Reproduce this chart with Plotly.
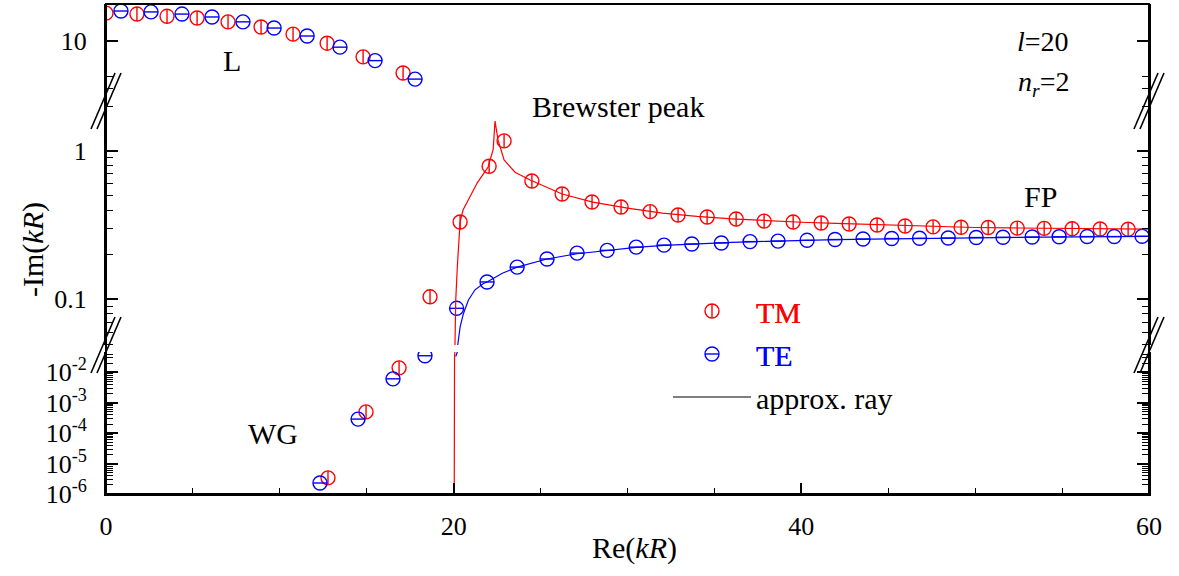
import plotly.graph_objects as go

# ---------------- data ----------------
# TM resonances (red): L modes, WG modes, FP / Brewster modes
tm_x = [0.0, 1.78, 3.51, 5.24, 7.02, 8.92, 10.76, 12.72, 14.79, 17.09,
        12.77, 14.96, 16.86,
        18.64, 20.37, 22.04, 22.9, 24.5, 26.24, 27.96, 29.63, 31.3, 32.91, 34.58,
        36.25, 37.86, 39.53, 41.14, 42.75, 44.36, 45.97, 47.58, 49.19, 50.75,
        52.42, 53.97, 55.58, 57.19, 58.8, 60.4]
tm_y = [16.9, 16.6, 15.9, 15.4, 14.3, 12.95, 11.3, 9.5, 7.3, 5.36,
        3.4e-6, 5.0e-4, 1.4e-2,
        0.104, 0.332, 0.79, 1.17, 0.628, 0.513, 0.453, 0.419, 0.39, 0.37, 0.359,
        0.348, 0.337, 0.332, 0.327, 0.322, 0.317, 0.312, 0.308, 0.306, 0.305,
        0.302, 0.301, 0.299, 0.298, 0.297, 0.296]

# TE resonances (blue)
te_x = [0.86, 2.59, 4.37, 6.1, 7.88, 9.67, 11.57, 13.46, 15.48, 17.78,
        12.31, 14.5, 16.51, 18.35,
        20.17, 21.92, 23.65, 25.37, 27.1, 28.83, 30.5, 32.1, 33.7, 35.4, 37.05,
        38.66, 40.33, 41.94, 43.55, 45.2, 46.8, 48.45, 50.06, 51.6, 53.28,
        54.83, 56.44, 58.0, 59.6]
te_y = [17.6, 17.3, 16.6, 15.7, 14.3, 12.7, 10.9, 8.8, 6.8, 4.77,
        2.3e-6, 2.9e-4, 6.1e-3, 0.035,
        0.087, 0.131, 0.165, 0.187, 0.205, 0.214, 0.225, 0.232, 0.236, 0.24, 0.245,
        0.247, 0.25, 0.253, 0.255, 0.257, 0.258, 0.259, 0.261, 0.262, 0.263,
        0.264, 0.265, 0.265, 0.266]

# approximate ray-model curves
tm_ray_x = [20.03, 20.03, 20.05, 20.08, 20.12, 20.21, 20.29, 20.37, 20.54, 20.83,
            21.35, 21.98, 22.27, 22.38, 22.55, 22.9, 23.53, 24.4, 26.24, 28, 30,
            32, 34, 36, 38, 40, 42, 44, 46, 48, 50, 52, 54, 56, 58, 60]
tm_ray_y = [1e-7, 0.01, 0.035, 0.053, 0.099, 0.166, 0.251, 0.332, 0.40, 0.468,
            0.608, 0.78, 1.02, 1.59, 1.19, 0.87, 0.72, 0.637, 0.513, 0.452, 0.412,
            0.381, 0.362, 0.349, 0.339, 0.331, 0.325, 0.319, 0.313, 0.308, 0.305,
            0.303, 0.301, 0.299, 0.298, 0.297]
te_ray_x = [20.12, 20.17, 20.22, 20.27, 20.37, 20.56, 20.85, 21.23, 21.71, 21.92,
            22.8, 23.65, 25.37, 27.1, 28.83, 30.5, 32.1, 34, 36, 38, 40, 42, 44,
            46, 48, 50, 52, 54, 56, 58, 60]
te_ray_y = [0.033, 0.042, 0.048, 0.053, 0.065, 0.080, 0.099, 0.116, 0.128, 0.131,
            0.150, 0.165, 0.187, 0.203, 0.214, 0.224, 0.231, 0.237, 0.242, 0.246,
            0.250, 0.253, 0.255, 0.257, 0.259, 0.261, 0.262, 0.263, 0.264, 0.265,
            0.266]

x_ticks = [0, 20, 40, 60]
seg1_ticks, seg1_text = [10], ["10"]
seg2_ticks, seg2_text = [0.1, 1], ["0.1", "1"]
seg3_ticks = [1e-6, 1e-5, 1e-4, 1e-3, 1e-2]
seg3_text = ["10<sup>-6</sup>", "10<sup>-5</sup>", "10<sup>-4</sup>",
             "10<sup>-3</sup>", "10<sup>-2</sup>"]

# ---------------- layout constants ----------------
RED, BLUE = "#ff0000", "#0000ff"
FONT = "Liberation Serif"
W, H = 1179, 576
ML, MR, MT, MB = 106, 30, 4, 82
PW, PH = W - ML - MR, H - MT - MB


def px2paper(px, py):
    return (px - ML) / PW, (H - MB - py) / PH


fig = go.Figure()
axes = ["y", "y2", "y3"]
for i, ya in enumerate(axes):
    first = i == 0
    fig.add_trace(go.Scatter(x=tm_x, y=tm_y, yaxis=ya, mode="markers",
                             marker=dict(symbol="circle-open", size=14, color=RED,
                                         line=dict(width=1.4, color=RED)),
                             name='<span style="color:#ff0000">TM</span>',
                             legendgroup="tm", showlegend=first, legend="legend"))
    fig.add_trace(go.Scatter(x=tm_x, y=tm_y, yaxis=ya, mode="markers",
                             marker=dict(symbol="line-ns-open", size=10, color=RED,
                                         line=dict(width=1.4, color=RED)),
                             name='<span style="color:#ff0000">TM</span>',
                             legendgroup="tm2", showlegend=first, legend="legend2"))
    fig.add_trace(go.Scatter(x=te_x, y=te_y, yaxis=ya, mode="markers",
                             marker=dict(symbol="circle-open", size=14, color=BLUE,
                                         line=dict(width=1.4, color=BLUE)),
                             name='<span style="color:#0000ff">TE</span>',
                             legendgroup="te", showlegend=first, legend="legend"))
    fig.add_trace(go.Scatter(x=te_x, y=te_y, yaxis=ya, mode="markers",
                             marker=dict(symbol="line-ew-open", size=10, color=BLUE,
                                         line=dict(width=1.4, color=BLUE)),
                             name='<span style="color:#0000ff">TE</span>',
                             legendgroup="te2", showlegend=first, legend="legend2"))
    fig.add_trace(go.Scatter(x=tm_ray_x, y=tm_ray_y, yaxis=ya, mode="lines",
                             line=dict(color=RED, width=1.2), showlegend=False))
    fig.add_trace(go.Scatter(x=te_ray_x, y=te_ray_y, yaxis=ya, mode="lines",
                             line=dict(color=BLUE, width=1.2), showlegend=False))

# legend-only entry for the approximate ray model
fig.add_trace(go.Scatter(x=[None], y=[None], mode="lines", yaxis="y2",
                         line=dict(color="black", width=1.2),
                         name="approx. ray", legendgroup="ray", legend="legend"))

tickfont = dict(family=FONT, size=26, color="black")


def yax(domain, rng, tv, tt, minor_vals):
    return dict(type="log", domain=domain, range=rng, anchor="x",
                tickmode="array", tickvals=tv, ticktext=tt,
                ticks="inside", ticklen=12, tickwidth=1.5, tickcolor="black",
                showline=True, linecolor="black", linewidth=2, mirror="ticks",
                showgrid=False, zeroline=False, tickfont=tickfont,
                ticklabelstandoff=12,
                minor=dict(tickmode="array", tickvals=minor_vals, ticks="inside",
                           ticklen=7, tickwidth=1.3, tickcolor="black", showgrid=False))


minor1 = [4, 5, 20]
minor2 = [0.04, 0.05, 0.06, 0.07, 0.08, 0.09, 0.2, 0.3, 0.4, 0.5, 0.6, 0.7, 0.8, 0.9, 2]
minor3 = [m * 10 ** e for e in range(-6, -1) for m in range(2, 10)] + [0.02, 0.03, 0.04]

fig.update_layout(
    width=W, height=H,
    margin=dict(l=ML, r=MR, t=MT, b=MB),
    paper_bgcolor="white", plot_bgcolor="white",
    font=dict(family=FONT, size=26, color="black"),
    xaxis=dict(domain=[0, 1], range=[0, 60], anchor="y3",
               tickmode="array", tickvals=x_ticks,
               ticks="inside", ticklen=11, tickwidth=1.5, tickcolor="black",
               showline=True, linecolor="black", linewidth=2,
               showgrid=False, zeroline=False, tickfont=tickfont,
               ticklabelstandoff=8,
               minor=dict(dtick=5, ticks="inside", ticklen=6, tickwidth=1.3,
                          tickcolor="black", showgrid=False)),
    xaxis2=dict(overlaying="x", matches="x", range=[0, 60], anchor="y", side="top",
                tickmode="array", tickvals=x_ticks, showticklabels=False,
                ticks="inside", ticklen=11, tickwidth=1.5, tickcolor="black",
                showline=True, linecolor="black", linewidth=2,
                showgrid=False, zeroline=False,
                minor=dict(dtick=5, ticks="inside", ticklen=6, tickwidth=1.3,
                           tickcolor="black", showgrid=False)),
    yaxis=yax([0.802, 1.0], [0.496, 1.304], seg1_ticks, seg1_text, minor1),
    yaxis2=yax([0.304, 0.802], [-1.308, 0.337], seg2_ticks, seg2_text, minor2),
    yaxis3=yax([0.0, 0.290], [-6.0, -1.329], seg3_ticks, seg3_text, minor3),
    showlegend=True,
)

lx, ly = px2paper(668, 285)
legend_common = dict(x=lx, y=ly, xanchor="left", yanchor="top",
                     bgcolor="rgba(0,0,0,0)", borderwidth=0,
                     font=dict(family=FONT, size=30, color="black"),
                     itemwidth=78, tracegroupgap=1, traceorder="grouped",
                     itemclick=False, itemdoubleclick=False)
fig.update_layout(legend=legend_common, legend2=legend_common)

# frame and axis-break marks (decoration)
shapes = [dict(type="rect", xref="paper", yref="paper", x0=0, x1=1, y0=0, y1=1,
               line=dict(color="black", width=2), layer="above")]
for cx in (106, 1149):
    for cy in (101, 345):
        for dx in (-3, 3):
            x0, y0 = px2paper(cx + dx - 12, cy + 28)
            x1, y1 = px2paper(cx + dx + 12, cy - 28)
            shapes.append(dict(type="line", xref="paper", yref="paper",
                               x0=x0, y0=y0, x1=x1, y1=y1,
                               line=dict(color="black", width=1.6), layer="above"))
fig.update_layout(shapes=shapes)


def ann(text, px, py, size=30, angle=0):
    x, y = px2paper(px, py)
    return dict(text=text, x=x, y=y, xref="paper", yref="paper", showarrow=False,
                xanchor="center", yanchor="middle", textangle=angle,
                font=dict(family=FONT, size=size, color="black"))


fig.update_layout(annotations=[
    ann("L", 232, 61),
    ann("Brewster peak", 618, 106),
    ann("FP", 1040, 197),
    ann("WG", 273, 433),
    ann("<i>l</i>=20", 1043, 41, size=28),
    ann("<i>n</i><sub><i>r</i></sub>=2", 1043, 84, size=28),
    ann("Re(<i>kR</i>)", 634, 548, size=30),
    ann("-Im(<i>kR</i>)", 33, 250, size=30, angle=-90),
])

fig.write_html("out.html")
